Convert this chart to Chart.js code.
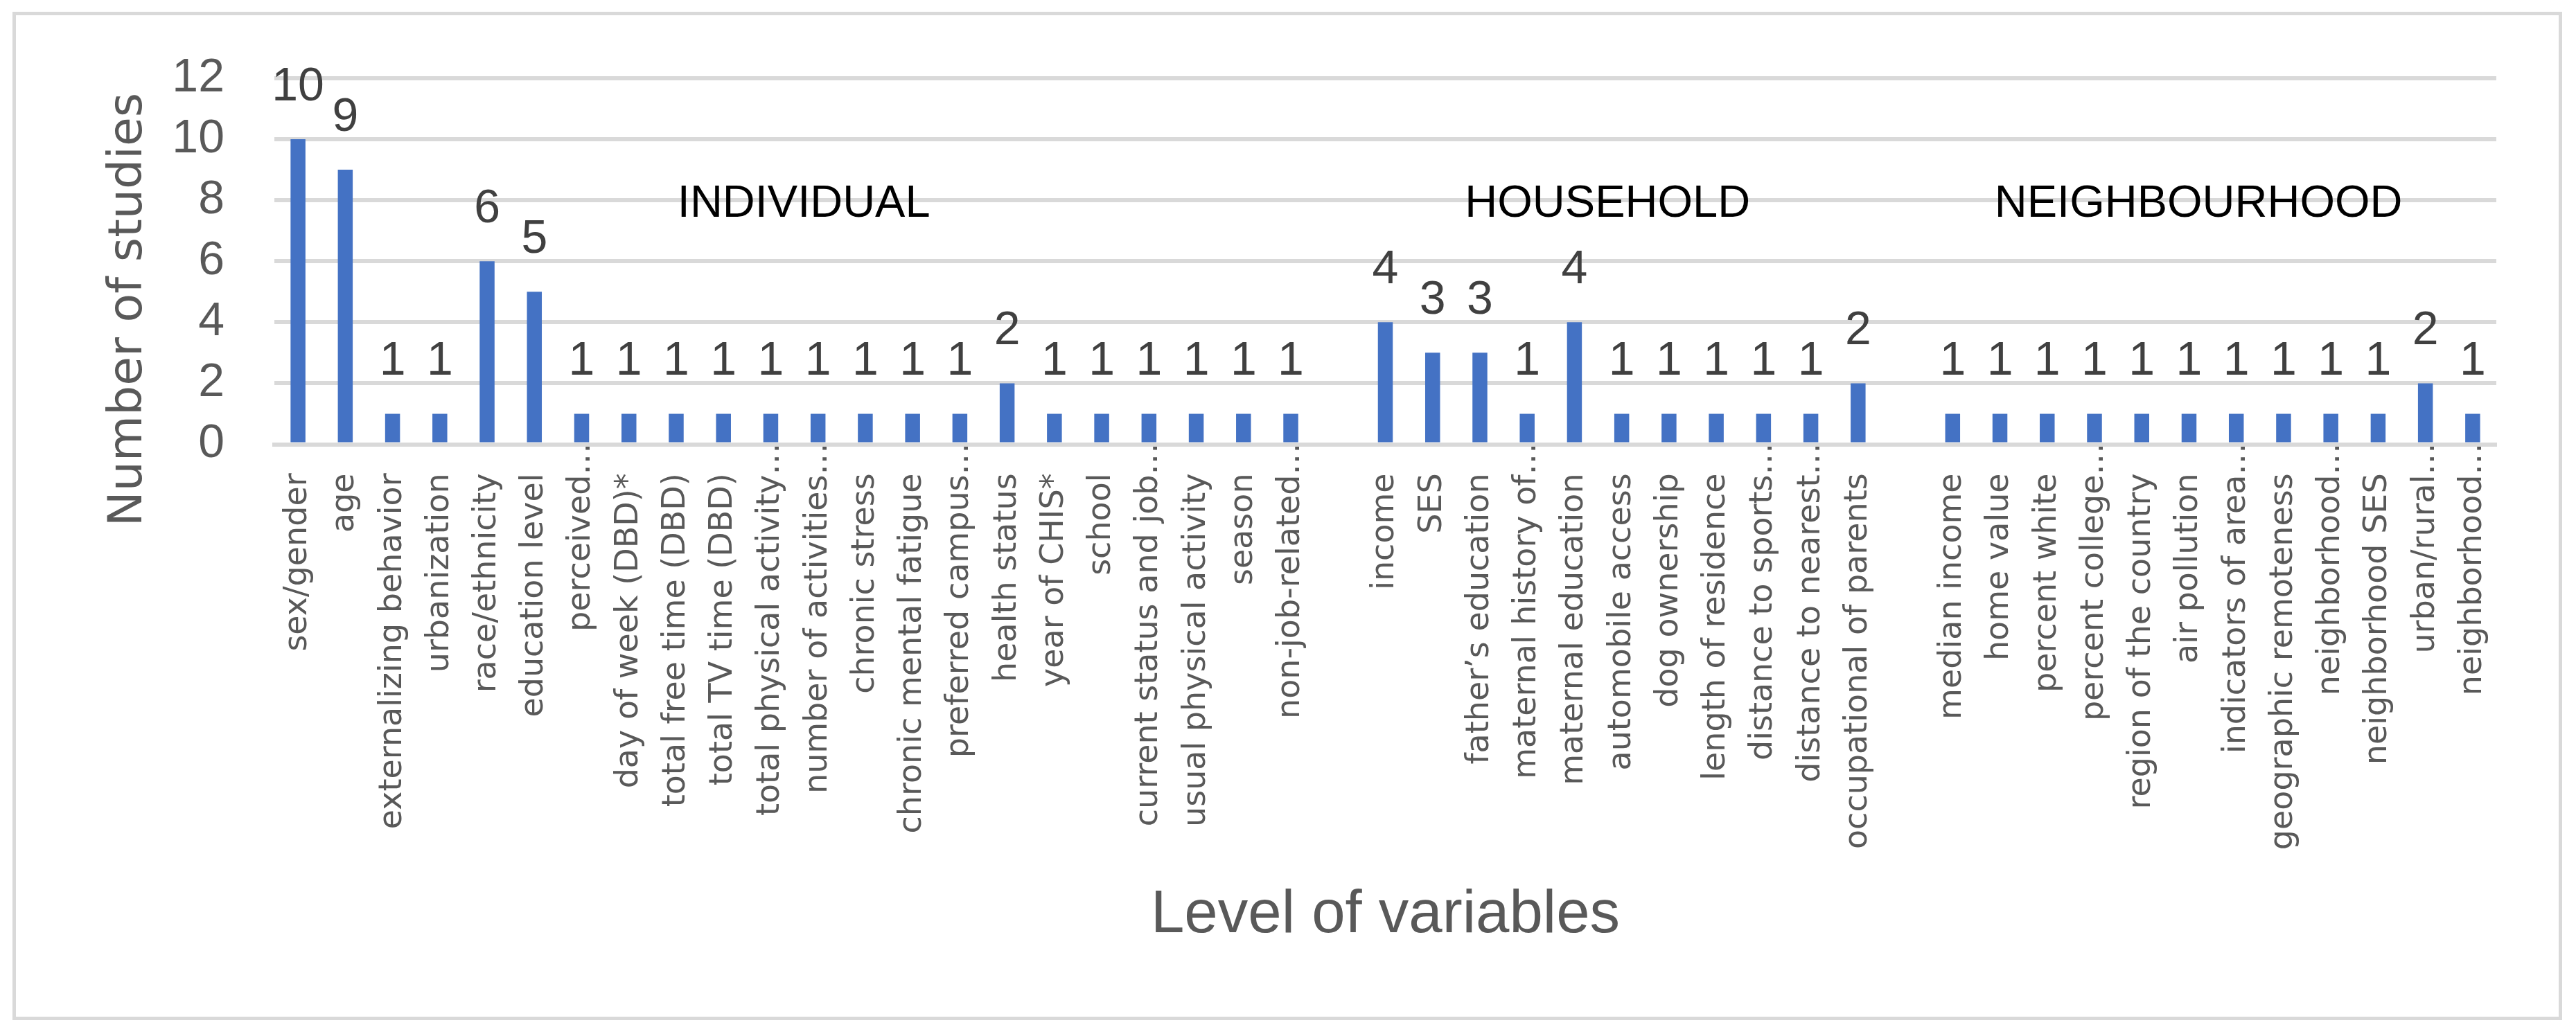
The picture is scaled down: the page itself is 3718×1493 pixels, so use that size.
<!DOCTYPE html>
<html>
<head>
<meta charset="utf-8">
<title>Level of variables</title>
<script src="https://cdn.jsdelivr.net/npm/chart.js@4.4.1/dist/chart.umd.min.js"></script>
<style>
  html, body { margin: 0; padding: 0; background: #fff; }
  #wrap { position: relative; width: 3718px; height: 1493px; }
</style>
</head>
<body>
<div id="wrap"><canvas id="variables"></canvas></div>
<script>
// Variables a nivel individual
const individualVars = [
    'sex/gender', 'age', 'externalizing behavior', 'urbanization', 'race/ethnicity',
    'education level', 'perceived…', 'day of week (DBD)*', 'total free time (DBD)',
    'total TV time (DBD)', 'total physical activity…', 'number of activities…',
    'chronic stress', 'chronic mental fatigue', 'preferred campus…', 'health status',
    'year of CHIS*', 'school', 'current status and job…', 'usual physical activity',
    'season', 'non-job-related…'
];
const individualCounts = [10, 9, 1, 1, 6, 5, 1, 1, 1, 1, 1, 1, 1, 1, 1, 2, 1, 1, 1, 1, 1, 1];

// Variables a nivel de hogar
const householdVars = [
    'income', 'SES', 'father’s education', 'maternal history of…', 'maternal education',
    'automobile access', 'dog ownership', 'length of residence', 'distance to sports…',
    'distance to nearest…', 'occupational of parents'
];
const householdCounts = [4, 3, 3, 1, 4, 1, 1, 1, 1, 1, 2];

// Variables a nivel de barrio
const neighbourhoodVars = [
    'median income', 'home value', 'percent white', 'percent college…',
    'region of the country', 'air pollution', 'indicators of area…',
    'geographic remoteness', 'neighborhood…', 'neighborhood SES', 'urban/rural…',
    'neighborhood…'
];
const neighbourhoodCounts = [1, 1, 1, 1, 1, 1, 1, 1, 1, 1, 2, 1];

const groupNames = ['INDIVIDUAL', 'HOUSEHOLD', 'NEIGHBOURHOOD'];
const yTicks = [0, 2, 4, 6, 8, 10, 12];

// una categoría vacía separa cada grupo
const labels = [...individualVars, '', ...householdVars, '', ...neighbourhoodVars];
const counts = [...individualCounts, null, ...householdCounts, null, ...neighbourhoodCounts];

const narrow = "'Liberation Sans Narrow', 'Liberation Sans', sans-serif";
const wide = "'DejaVu Sans', Verdana, sans-serif";

// Fondo y marco gris alrededor de toda la figura
const framePlugin = {
    id: 'frame',
    beforeDraw(chart) {
        const ctx = chart.ctx;
        ctx.save();
        ctx.fillStyle = '#ffffff';
        ctx.fillRect(0, 0, chart.width, chart.height);
        ctx.strokeStyle = '#d9d9d9';
        ctx.lineWidth = 5;
        ctx.strokeRect(20.5, 19.5, 3675, 1451);
        ctx.restore();
    }
};

// Números sobre las barras, nombres de los grupos y título del eje Y
const labelsPlugin = {
    id: 'valueLabels',
    afterDatasetsDraw(chart) {
        const ctx = chart.ctx;
        const meta = chart.getDatasetMeta(0);
        ctx.save();
        ctx.font = '68px ' + narrow;
        ctx.fillStyle = '#404040';
        ctx.textAlign = 'center';
        ctx.textBaseline = 'alphabetic';
        meta.data.forEach((bar, i) => {
            const v = counts[i];
            if (v === null) return;
            ctx.fillText(String(v), bar.x, bar.y - 56);
        });

        // nombres de grupo (posición en unidades de categoría / valor)
        const x = chart.scales.x;
        const y = chart.scales.y;
        const groupAt = [10.7, 27.7, 40.2];
        ctx.font = '65px ' + narrow;
        ctx.fillStyle = '#000000';
        groupNames.forEach((name, i) => {
            ctx.fillText(name, x.getPixelForValue(groupAt[i]), y.getPixelForValue(7.45));
        });

        // título del eje Y
        ctx.font = '68px ' + wide;
        ctx.fillStyle = '#595959';
        ctx.translate(204, 447);
        ctx.rotate(-Math.PI / 2);
        ctx.fillText('Number of studies', 0, 0);
        ctx.restore();
    }
};

const ctxVars = document.getElementById('variables').getContext('2d');
new Chart(ctxVars, {
    type: 'bar',
    data: {
        labels: labels,
        datasets: [{
            label: 'Number of studies',
            data: counts,
            backgroundColor: '#4472c4',
            barPercentage: 0.315,
            categoryPercentage: 1.0
        }]
    },
    options: {
        responsive: true,
        maintainAspectRatio: false,
        devicePixelRatio: 1,
        animation: false,
        layout: {
            padding: { top: 110, right: 115, bottom: 0, left: 0 }
        },
        plugins: {
            legend: { display: false },
            tooltip: { enabled: false }
        },
        scales: {
            x: {
                grid: { display: false, drawTicks: false },
                border: { display: true, color: '#d9d9d9', width: 6, z: 1 },
                ticks: {
                    autoSkip: false,
                    minRotation: 90,
                    maxRotation: 90,
                    padding: -2,
                    color: '#595959',
                    font: { family: wide, size: 46 },
                    // deja el mismo hueco que ocupa "…" en las etiquetas recortadas
                    callback: function(value) {
                        const t = this.getLabelForValue(value);
                        return (t === '' || t.endsWith('…')) ? t : t + '   ';
                    }
                },
                title: {
                    display: true,
                    text: 'Level of variables',
                    color: '#595959',
                    font: { family: narrow, size: 87, lineHeight: 1.2 },
                    padding: { top: 0, bottom: 119 }
                },
                afterFit: function(scale) { scale.height = 851.5; }
            },
            y: {
                min: yTicks[0],
                max: yTicks[yTicks.length - 1],
                afterBuildTicks: function(scale) {
                    scale.ticks = yTicks.map(v => ({ value: v }));
                },
                grid: { color: '#d9d9d9', lineWidth: 6, drawTicks: false },
                border: { display: false },
                ticks: {
                    padding: 72,
                    color: '#595959',
                    font: { family: narrow, size: 68 }
                },
                afterFit: function(scale) { scale.width = 396; }
            }
        }
    },
    plugins: [framePlugin, labelsPlugin]
});
</script>
</body>
</html>
